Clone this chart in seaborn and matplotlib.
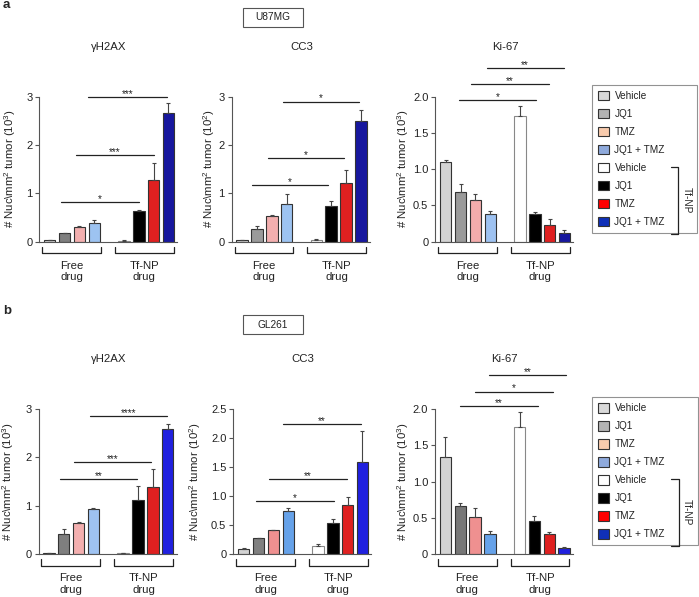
import numpy as np
import pandas as pd
import matplotlib
matplotlib.use("Agg")
import matplotlib.pyplot as plt
import matplotlib.transforms as mtransforms
from matplotlib.patches import Patch, Rectangle
from matplotlib.lines import Line2D
import seaborn as sns

sns.set_style("ticks")
plt.rcParams["font.family"] = ["Liberation Sans", "DejaVu Sans"]
plt.rcParams["mathtext.fontset"] = "custom"
plt.rcParams["mathtext.rm"] = "Liberation Sans"

# ---------------- data ----------------
treatments = ["Vehicle", "JQ1", "TMZ", "JQ1 + TMZ"]
bar_names = ["Free Vehicle", "Free JQ1", "Free TMZ", "Free JQ1 + TMZ",
             "Tf-NP Vehicle", "Tf-NP JQ1", "Tf-NP TMZ", "Tf-NP JQ1 + TMZ"]
slot_order = bar_names[:4] + [" "] + bar_names[4:]
bar_pos = [0, 1, 2, 3, 5, 6, 7, 8]

# U87MG
u87_h2ax = [0.04, 0.17, 0.30, 0.39, 0.02, 0.63, 1.28, 2.66]
u87_h2ax_sem = [0.005, 0.02, 0.02, 0.05, 0.005, 0.03, 0.35, 0.21]
u87_cc3 = [0.03, 0.27, 0.54, 0.79, 0.04, 0.74, 1.22, 2.49]
u87_cc3_sem = [0.01, 0.05, 0.02, 0.19, 0.02, 0.11, 0.26, 0.23]
u87_ki67 = [1.10, 0.69, 0.57, 0.38, 1.73, 0.38, 0.23, 0.115]
u87_ki67_sem = [0.03, 0.11, 0.09, 0.05, 0.14, 0.03, 0.08, 0.04]
# GL261
gl_h2ax = [0.02, 0.41, 0.65, 0.94, 0.03, 1.12, 1.39, 2.59]
gl_h2ax_sem = [0.005, 0.11, 0.02, 0.02, 0.005, 0.28, 0.37, 0.10]
gl_cc3 = [0.086, 0.275, 0.41, 0.74, 0.15, 0.545, 0.84, 1.59]
gl_cc3_sem = [0.025, 0.01, 0.01, 0.05, 0.03, 0.065, 0.14, 0.54]
gl_ki67 = [1.34, 0.67, 0.52, 0.28, 1.755, 0.46, 0.28, 0.083]
gl_ki67_sem = [0.27, 0.03, 0.115, 0.046, 0.20, 0.07, 0.028, 0.014]

# significance brackets: (x start, x end, y, label)
u87_h2ax_sig = [(0.75, 6.0, 0.82, "*"), (1.75, 7.0, 1.79, "***"), (2.6, 7.9, 3.0, "***")]
u87_cc3_sig = [(0.65, 5.8, 1.17, "*"), (1.75, 6.87, 1.74, "*"), (2.73, 7.87, 2.90, "*")]
u87_ki67_sig = [(0.9, 6.1, 1.96, "*"), (1.7, 6.93, 2.17, "**"), (2.75, 7.95, 2.40, "**")]
gl_h2ax_sig = [(0.74, 5.95, 1.56, "**"), (1.68, 6.9, 1.91, "***"), (2.75, 7.94, 2.85, "****")]
gl_cc3_sig = [(0.81, 6.05, 0.92, "*"), (1.71, 6.96, 1.30, "**"), (2.66, 7.9, 2.24, "**")]
gl_ki67_sig = [(1.0, 6.25, 2.04, "**"), (2.0, 7.25, 2.24, "*"), (2.95, 8.15, 2.47, "**")]

h2ax_ticks = [0, 1, 2, 3]
h2ax_ticklabels = ["0", "1", "2", "3"]
cc3_a_ticks = [0, 1, 2, 3]
cc3_a_ticklabels = ["0", "1", "2", "3"]
cc3_b_ticks = [0, 0.5, 1.0, 1.5, 2.0, 2.5]
cc3_b_ticklabels = ["0", "0.5", "1.0", "1.5", "2.0", "2.5"]
ki_ticks = [0, 0.5, 1.0, 1.5, 2.0]
ki_ticklabels = ["0", "0.5", "1.0", "1.5", "2.0"]

ylab3 = "# Nuc\\mm$^2$ tumor (10$^3$)"
ylab2 = "# Nuc\\mm$^2$ tumor (10$^2$)"

# colours
col_a_h2ax = ["#d2d2d2", "#7f7f7f", "#ffa3a3", "#8fc1ff", "#ffffff", "#000000", "#ff0000", "#0000b4"]
col_a_cc3 = ["#d2d2d2", "#9a9a9a", "#ffa3a3", "#8fc1ff", "#ffffff", "#000000", "#ff0000", "#0000b4"]
col_a_ki = ["#d3d3d3", "#9a9a9a", "#ffa0a0", "#90c0ff", "#ffffff", "#000000", "#ff0000", "#0000b4"]
col_b_h2ax = ["#d2d2d2", "#7f7f7f", "#ffa3a3", "#90c0ff", "#ffffff", "#000000", "#ff0000", "#0000ff"]
col_b_cc3 = ["#d3d3d3", "#808080", "#ff8080", "#50a0ff", "#ffffff", "#000000", "#ff0000", "#0000ff"]
col_b_ki = ["#d3d3d3", "#777777", "#ff8080", "#50a0ff", "#ffffff", "#000000", "#ff0000", "#0000ff"]

legend_labels = treatments + treatments
legend_colors = ["#d9d9d9", "#b3b3b3", "#f8cbad", "#8faadc", "#ffffff", "#000000", "#ff0000", "#1030b8"]

# ---------------- layout helpers ----------------
W, H = 699, 597
fig = plt.figure(figsize=(W / 100, H / 100), dpi=100)
FS = 8.2
TICKFS = 8.0
LEGFS = 7.2
XLIM = (-0.7, 8.6)
SLOT = 14.85
AXW = (XLIM[1] - XLIM[0]) * SLOT
DARK = "#222222"
SPINE = "#555555"


def px_rect(left, top, right, bottom):
    return [left / W, 1 - bottom / H, (right - left) / W, (bottom - top) / H]


def draw_panel(left, top, bottom, title, means, sems, colors, ticks, ticklabels,
               ylabel, ylabel_x, sigs):
    ax = fig.add_axes(px_rect(left, top, left + AXW, bottom))
    hpx = bottom - top
    df = pd.DataFrame({"group": bar_names, "value": means})
    sns.barplot(data=df, x="group", y="value", hue="group", order=slot_order,
                hue_order=bar_names, palette=dict(zip(bar_names, colors)),
                legend=False, errorbar=None, width=0.77, edgecolor="#333333",
                linewidth=0.8, ax=ax)
    for p in ax.patches:
        cx = p.get_x() + p.get_width() / 2
        if abs(cx - 5) < 0.1:
            p.set_edgecolor("#888888")
    ax.errorbar(bar_pos, means, yerr=[np.zeros(len(sems)), sems], fmt="none",
                ecolor="#444444", elinewidth=0.8, capsize=1.6, capthick=0.8, zorder=3)
    ax.set_xlim(*XLIM)
    ax.set_ylim(0, ticks[-1])
    ax.set_yticks(ticks)
    ax.set_yticklabels(ticklabels)
    ax.set_xticks([])
    ax.set_xlabel("")
    ax.set_ylabel("")
    for s in ["top", "right"]:
        ax.spines[s].set_visible(False)
    for s in ["left", "bottom"]:
        ax.spines[s].set_color(SPINE)
        ax.spines[s].set_linewidth(0.8)
    ax.tick_params(axis="y", length=3, width=0.8, color=SPINE, labelsize=TICKFS,
                   pad=2, labelcolor=DARK)
    ax.patch.set_alpha(0)

    trans = mtransforms.blended_transform_factory(ax.transData, ax.transAxes)
    # title
    ax.text(4.0, 1 + 50 / hpx, title, transform=trans, ha="center", va="center",
            fontsize=FS, color=DARK)
    # y label
    ax.text((ylabel_x - left) / AXW, 0.5, ylabel, transform=ax.transAxes,
            rotation=90, ha="center", va="center", fontsize=FS, color=DARK)
    # group brackets
    y1, y2 = -5 / hpx, -11.3 / hpx
    for (x0, x1, lab) in [(-0.5, 3.45, "Free\ndrug"), (4.4, 8.35, "Tf-NP\ndrug")]:
        ax.plot([x0, x0, x1, x1], [y1, y2, y2, y1], transform=trans,
                clip_on=False, color=DARK, lw=0.9)
        ax.text((x0 + x1) / 2, -29.8 / hpx, lab, transform=trans, ha="center",
                va="center", fontsize=FS, linespacing=1.15, color=DARK)
    # significance
    for (x0, x1, y, lab) in sigs:
        ax.plot([x0, x1], [y, y], color=DARK, lw=0.9, clip_on=False)
        ax.text((x0 + x1) / 2, y, lab, ha="center", va="baseline", fontsize=7.2,
                color=DARK, clip_on=False)
    return ax


# row a (U87MG)
ta, ba = 96.7, 241.7
draw_panel(39.3, ta, ba, "\u03b3H2AX", u87_h2ax, u87_h2ax_sem, col_a_h2ax,
           h2ax_ticks, h2ax_ticklabels, ylab3, 10.0, u87_h2ax_sig)
draw_panel(231.7, ta, ba, "CC3", u87_cc3, u87_cc3_sem, col_a_cc3,
           cc3_a_ticks, cc3_a_ticklabels, ylab2, 209.0, u87_cc3_sig)
draw_panel(435.3, ta, ba, "Ki-67", u87_ki67, u87_ki67_sem, col_a_ki,
           ki_ticks, ki_ticklabels, ylab3, 403.5, u87_ki67_sig)

# row b (GL261)
tb, bb = 409.0, 554.3
draw_panel(38.5, tb, bb, "\u03b3H2AX", gl_h2ax, gl_h2ax_sem, col_b_h2ax,
           h2ax_ticks, h2ax_ticklabels, ylab3, 8.0, gl_h2ax_sig)
draw_panel(233.3, tb, bb, "CC3", gl_cc3, gl_cc3_sem, col_b_cc3,
           cc3_b_ticks, cc3_b_ticklabels, ylab2, 195.0, gl_cc3_sig)
draw_panel(435.0, tb, bb, "Ki-67", gl_ki67, gl_ki67_sem, col_b_ki,
           ki_ticks, ki_ticklabels, ylab3, 403.5, gl_ki67_sig)


# ---------------- legends ----------------
def fig_line(xs, ys, **kw):
    fig.add_artist(Line2D([x / W for x in xs], [1 - y / H for y in ys],
                          transform=fig.transFigure, color=DARK, lw=0.9,
                          zorder=10, **kw))


def draw_legend(x0, y0, x1, y1):
    handles = [Patch(facecolor=c, edgecolor="#333333", linewidth=0.8) for c in legend_colors]
    leg = fig.legend(handles=handles, labels=legend_labels, loc="upper left",
                     bbox_to_anchor=(x0 / W, 1 - y1 / H, (x1 - x0) / W, (y1 - y0) / H),
                     bbox_transform=fig.transFigure, mode="expand", borderaxespad=0,
                     frameon=True, fancybox=False, edgecolor="#777777", fontsize=LEGFS,
                     labelspacing=0.78, handlelength=1.1, handleheight=1.1,
                     handletextpad=0.55, borderpad=0.57)
    leg.get_frame().set_linewidth(0.8)
    for t in leg.get_texts():
        t.set_color(DARK)
    bt, bbm = y0 + 81.7, y0 + 149.0
    fig_line([x1 - 26.6, x1 - 19, x1 - 19, x1 - 26.6], [bt, bt, bbm, bbm])
    fig.text((x1 - 11) / W, 1 - ((bt + bbm) / 2) / H, "Tf-NP", rotation=270,
             ha="center", va="center", fontsize=LEGFS, color=DARK, zorder=10)


draw_legend(592.3, 85.0, 697.3, 239.0)
draw_legend(592.3, 397.3, 697.6, 551.0)


# ---------------- cell-line boxes and panel letters ----------------
def cell_box(x0, y0, x1, y1, label):
    fig.add_artist(Rectangle((x0 / W, 1 - y1 / H), (x1 - x0) / W, (y1 - y0) / H,
                             transform=fig.transFigure, facecolor="white",
                             edgecolor="#555555", lw=0.8))
    fig.text((x0 + x1) / 2 / W, 1 - (y0 + y1) / 2 / H, label, ha="center",
             va="center", fontsize=7.3, color=DARK)


cell_box(242.5, 7.7, 302.7, 26.7, "U87MG")
cell_box(242.5, 315.0, 302.7, 334.0, "GL261")

fig.text(3 / W, 1 - 5 / H, "a", fontsize=9.5, fontweight="bold", ha="left", va="center")
fig.text(3 / W, 1 - 311 / H, "b", fontsize=9.5, fontweight="bold", ha="left", va="center")

fig.savefig("out.png", dpi=100)
